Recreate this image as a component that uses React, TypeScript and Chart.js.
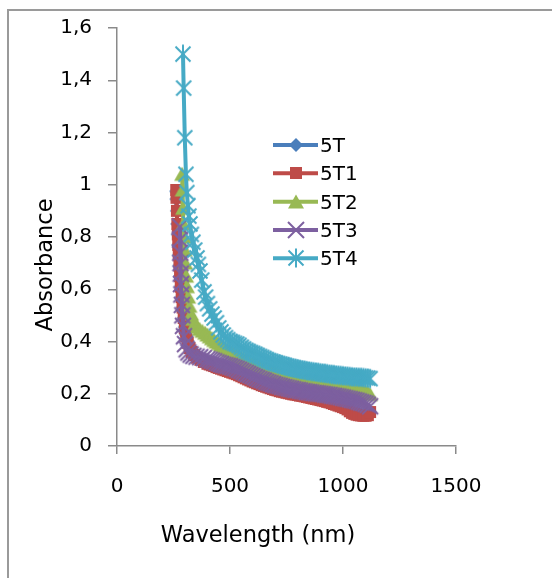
import React, { useEffect, useRef } from "react";
import { Chart, registerables } from "chart.js";

Chart.register(...registerables);

// ---------- data ----------
const seriesNames = ["5T", "5T1", "5T2", "5T3", "5T4"];
const seriesColors = ["#4A7EBB", "#BE4B48", "#98B954", "#7D60A0", "#46AAC5"];
const seriesMarkers = ["diamond", "square", "triangle", "x", "star"];

const xTickValues = [0, 500, 1000, 1500];
const yTickValues = [0, 0.2, 0.4, 0.6, 0.8, 1, 1.2, 1.4, 1.6];

// common wavelength grid for the flat part of the spectra (nm)
const gridWl = [
  400, 410, 420, 430, 440, 450, 460, 470, 480, 490,
  500, 510, 520, 530, 540, 550, 560, 570, 580, 590,
  600, 610, 620, 630, 640, 650, 660, 670, 680, 690,
  700, 710, 720, 730, 740, 750, 760, 770, 780, 790,
  800, 810, 820, 830, 840, 850, 860, 870, 880, 890,
  900, 910, 920, 930, 940, 950, 960, 970, 980, 990,
  1000, 1010, 1020, 1030, 1040, 1050, 1060, 1070, 1080, 1090,
  1100, 1110, 1120,
];

// 5T (lies under 5T1 in the picture)
const wl5T = [262, 263, 265, 267, 269, 271, 273, 276, 279, 282, 286, 290, 295, 300, 306, 313, 321, 330, 341, 354, 369, 384];
const abs5T = [
  0.975, 0.945, 0.9, 0.85, 0.81, 0.77, 0.73, 0.69, 0.65, 0.61, 0.57, 0.53, 0.49, 0.455, 0.425, 0.4, 0.38, 0.365,
  0.353, 0.343, 0.335, 0.327,
  0.32, 0.317, 0.314, 0.311, 0.307, 0.304, 0.301, 0.298, 0.295, 0.292,
  0.289, 0.286, 0.283, 0.28, 0.276, 0.272, 0.268, 0.264, 0.26, 0.256,
  0.252, 0.249, 0.245, 0.242, 0.238, 0.235, 0.232, 0.229, 0.226, 0.223,
  0.22, 0.218, 0.215, 0.213, 0.211, 0.209, 0.207, 0.205, 0.203, 0.202,
  0.2, 0.198, 0.197, 0.195, 0.193, 0.191, 0.189, 0.187, 0.185, 0.183,
  0.181, 0.179, 0.177, 0.174, 0.172, 0.169, 0.166, 0.163, 0.16, 0.157,
  0.154, 0.15, 0.145, 0.138, 0.132, 0.128, 0.125, 0.123, 0.122, 0.121,
  0.121, 0.123, 0.128,
];

// 5T1
const wl5T1 = [262, 263, 265, 267, 269, 271, 273, 276, 279, 282, 286, 290, 295, 300, 306, 313, 321, 330, 341, 354, 369, 384];
const abs5T1 = [
  0.98, 0.95, 0.9, 0.85, 0.81, 0.77, 0.73, 0.69, 0.65, 0.61, 0.57, 0.53, 0.49, 0.45, 0.42, 0.395, 0.375, 0.36,
  0.348, 0.338, 0.33, 0.322,
  0.315, 0.312, 0.309, 0.306, 0.302, 0.299, 0.296, 0.293, 0.29, 0.287,
  0.284, 0.281, 0.278, 0.275, 0.271, 0.267, 0.263, 0.259, 0.255, 0.251,
  0.247, 0.244, 0.24, 0.237, 0.233, 0.23, 0.227, 0.224, 0.221, 0.218,
  0.215, 0.213, 0.21, 0.208, 0.206, 0.204, 0.202, 0.2, 0.198, 0.197,
  0.195, 0.193, 0.192, 0.19, 0.188, 0.186, 0.184, 0.182, 0.18, 0.178,
  0.176, 0.174, 0.172, 0.169, 0.167, 0.164, 0.161, 0.158, 0.155, 0.152,
  0.149, 0.145, 0.14, 0.133, 0.127, 0.123, 0.12, 0.118, 0.117, 0.116,
  0.116, 0.118, 0.13,
];

// 5T2
const wl5T2 = [288, 290, 292, 294, 296, 299, 302, 306, 310, 315, 321, 328, 336, 345, 355, 366, 378, 390];
const abs5T2 = [
  1.04, 0.98, 0.91, 0.85, 0.8, 0.75, 0.7, 0.65, 0.61, 0.57, 0.535, 0.505, 0.485, 0.468, 0.455, 0.446, 0.439, 0.432,
  0.425, 0.418, 0.411, 0.404, 0.398, 0.392, 0.386, 0.38, 0.374, 0.368,
  0.363, 0.358, 0.353, 0.349, 0.344, 0.339, 0.334, 0.329, 0.325, 0.321,
  0.318, 0.314, 0.31, 0.306, 0.302, 0.299, 0.296, 0.293, 0.29, 0.287,
  0.284, 0.281, 0.278, 0.275, 0.273, 0.27, 0.268, 0.265, 0.263, 0.261,
  0.259, 0.257, 0.255, 0.253, 0.251, 0.25, 0.248, 0.247, 0.245, 0.244,
  0.242, 0.241, 0.24, 0.238, 0.237, 0.236, 0.235, 0.233, 0.232, 0.231,
  0.229, 0.228, 0.226, 0.225, 0.223, 0.221, 0.219, 0.217, 0.215, 0.212,
  0.209, 0.204, 0.197,
];

// 5T3
const wl5T3 = [278, 279, 280, 281, 282, 283, 285, 287, 289, 292, 296, 301, 308, 316, 326, 338, 352, 368, 384];
const abs5T3 = [
  0.84, 0.79, 0.74, 0.7, 0.66, 0.62, 0.58, 0.54, 0.5, 0.46, 0.42, 0.39, 0.37, 0.358, 0.35, 0.345, 0.342, 0.34, 0.337,
  0.333, 0.33, 0.327, 0.324, 0.32, 0.317, 0.314, 0.311, 0.309, 0.307,
  0.305, 0.302, 0.299, 0.296, 0.292, 0.288, 0.284, 0.28, 0.276, 0.272,
  0.268, 0.264, 0.26, 0.256, 0.253, 0.25, 0.246, 0.243, 0.24, 0.237,
  0.234, 0.232, 0.23, 0.227, 0.225, 0.223, 0.221, 0.219, 0.217, 0.215,
  0.214, 0.212, 0.21, 0.209, 0.207, 0.206, 0.205, 0.203, 0.202, 0.201,
  0.2, 0.199, 0.197, 0.196, 0.195, 0.193, 0.192, 0.19, 0.189, 0.187,
  0.185, 0.183, 0.181, 0.179, 0.177, 0.175, 0.173, 0.17, 0.167, 0.165,
  0.162, 0.158, 0.152,
];

// 5T4
const wl5T4 = [292, 295, 300, 305, 309, 314, 318, 323, 329, 336, 344, 354, 360, 367, 375, 385, 392];
const abs5T4 = [
  1.5, 1.37, 1.18, 1.04, 0.97, 0.92, 0.88, 0.85, 0.81, 0.78, 0.75, 0.72, 0.695, 0.67, 0.635, 0.59, 0.57,
  0.545, 0.525, 0.505, 0.49, 0.472, 0.452, 0.437, 0.425, 0.415, 0.407,
  0.4, 0.397, 0.393, 0.39, 0.385, 0.378, 0.372, 0.366, 0.362, 0.358,
  0.355, 0.351, 0.347, 0.343, 0.339, 0.335, 0.331, 0.327, 0.324, 0.321,
  0.318, 0.315, 0.313, 0.311, 0.308, 0.305, 0.303, 0.301, 0.299, 0.297,
  0.295, 0.293, 0.291, 0.29, 0.288, 0.287, 0.285, 0.284, 0.283, 0.282,
  0.28, 0.279, 0.278, 0.277, 0.275, 0.274, 0.273, 0.272, 0.271, 0.27,
  0.269, 0.268, 0.267, 0.266, 0.265, 0.264, 0.264, 0.263, 0.263, 0.262,
  0.261, 0.26, 0.258,
];

const seriesWl = [
  [...wl5T, ...gridWl],
  [...wl5T1, ...gridWl],
  [...wl5T2, ...gridWl],
  [...wl5T3, ...gridWl],
  [...wl5T4, ...gridWl],
];
const seriesAbs = [abs5T, abs5T1, abs5T2, abs5T3, abs5T4];

const FONT = "DejaVu Sans";

function makeMarker(kind: string, color: string): HTMLCanvasElement {
  const s = 22;
  const c = document.createElement("canvas");
  c.width = s;
  c.height = s;
  const g = c.getContext("2d") as CanvasRenderingContext2D;
  const m = s / 2;
  g.fillStyle = color;
  g.strokeStyle = color;
  g.lineWidth = 2;
  g.beginPath();
  if (kind === "diamond") {
    g.moveTo(m, m - 7);
    g.lineTo(m + 7, m);
    g.lineTo(m, m + 7);
    g.lineTo(m - 7, m);
    g.closePath();
    g.fill();
  } else if (kind === "square") {
    g.fillRect(m - 6, m - 6, 12, 12);
  } else if (kind === "triangle") {
    g.moveTo(m, m - 7.5);
    g.lineTo(m + 8, m + 6.5);
    g.lineTo(m - 8, m + 6.5);
    g.closePath();
    g.fill();
  } else if (kind === "x") {
    g.moveTo(m - 8, m - 8);
    g.lineTo(m + 8, m + 8);
    g.moveTo(m + 8, m - 8);
    g.lineTo(m - 8, m + 8);
    g.stroke();
  } else {
    g.moveTo(m - 7.5, m - 7.5);
    g.lineTo(m + 7.5, m + 7.5);
    g.moveTo(m + 7.5, m - 7.5);
    g.lineTo(m - 7.5, m + 7.5);
    g.moveTo(m, m - 9.5);
    g.lineTo(m, m + 9.5);
    g.stroke();
  }
  return c;
}

const fmtComma = (v: number) => (Math.round(v * 10) / 10).toString().replace(".", ",");

export default function App() {
  const ref = useRef<HTMLCanvasElement | null>(null);

  useEffect(() => {
    if (!ref.current) return;
    const markers = seriesMarkers.map((k, i) => makeMarker(k, seriesColors[i]));

    const decor = {
      id: "decor",
      beforeDraw(chart: any) {
        const ctx = chart.ctx as CanvasRenderingContext2D;
        ctx.save();
        ctx.fillStyle = "#ffffff";
        ctx.fillRect(0, 0, chart.width, chart.height);
        ctx.fillStyle = "#9a9a9a";
        ctx.fillRect(7, 9, chart.width - 7, 2);
        ctx.fillRect(7, 9, 2, chart.height - 9);
        ctx.restore();
      },
      afterDraw(chart: any) {
        const ctx = chart.ctx as CanvasRenderingContext2D;
        ctx.save();
        ctx.fillStyle = "#000000";
        ctx.font = `22.5px "${FONT}"`;
        ctx.textAlign = "center";
        ctx.textBaseline = "alphabetic";
        ctx.fillText("Wavelength (nm)", 258, 542);
        ctx.save();
        ctx.translate(52, 265);
        ctx.rotate(-Math.PI / 2);
        ctx.fillText("Absorbance", 0, 0);
        ctx.restore();

        // legend
        const rowY = [145, 173.3, 201.7, 230, 258.3];
        ctx.font = `20px "${FONT}"`;
        ctx.textAlign = "left";
        seriesNames.forEach((name, i) => {
          const y = rowY[i];
          ctx.strokeStyle = seriesColors[i];
          ctx.lineWidth = 4;
          ctx.beginPath();
          ctx.moveTo(273, y);
          ctx.lineTo(318, y);
          ctx.stroke();
          const mk = markers[i];
          ctx.drawImage(mk, 296 - mk.width / 2, Math.round(y) - mk.height / 2);
          ctx.fillStyle = "#000000";
          ctx.fillText(name, 320, y + 7);
        });
        ctx.restore();
      },
    };

    const chart = new Chart(ref.current, {
      type: "line",
      data: {
        datasets: seriesNames.map((name, i) => ({
          label: name,
          data: seriesWl[i].map((x, j) => ({ x, y: seriesAbs[i][j] })),
          borderColor: seriesColors[i],
          backgroundColor: seriesColors[i],
          borderWidth: 4,
          tension: 0,
          fill: false,
          pointStyle: markers[i] as any,
          pointRadius: 5,
          pointHoverRadius: 5,
          order: 4 - i,
        })),
      },
      options: {
        animation: false,
        responsive: false,
        maintainAspectRatio: false,
        events: [],
        layout: { padding: { top: 27, right: 96, left: 0, bottom: 0 } },
        plugins: {
          legend: { display: false },
          tooltip: { enabled: false },
          title: { display: false },
        },
        scales: {
          x: {
            type: "linear",
            min: 0,
            max: 1500,
            afterBuildTicks: (scale: any) => {
              scale.ticks = xTickValues.map((v) => ({ value: v }));
            },
            afterFit: (scale: any) => {
              scale.height = 132;
            },
            ticks: {
              color: "#000000",
              font: { family: FONT, size: 20 },
              padding: 21,
              maxRotation: 0,
              callback: (v: any) => String(v),
            },
            grid: {
              display: true,
              drawOnChartArea: false,
              drawTicks: true,
              tickLength: 8,
              color: "#8a8a8a",
              lineWidth: 1.5,
            },
            border: { display: true, color: "#8a8a8a", width: 1.5 },
          },
          y: {
            type: "linear",
            min: 0,
            max: 1.6,
            afterBuildTicks: (scale: any) => {
              scale.ticks = yTickValues.map((v) => ({ value: v }));
            },
            afterFit: (scale: any) => {
              scale.width = 117;
            },
            ticks: {
              color: "#000000",
              font: { family: FONT, size: 20 },
              padding: 16,
              callback: (v: any) => fmtComma(Number(v)),
            },
            grid: {
              display: true,
              drawOnChartArea: false,
              drawTicks: true,
              tickLength: 9,
              color: "#8a8a8a",
              lineWidth: 1.5,
            },
            border: { display: true, color: "#8a8a8a", width: 1.5 },
          },
        },
      },
      plugins: [decor as any],
    });
    return () => chart.destroy();
  }, []);

  return (
    <div style={{ position: "absolute", left: 0, top: 0, width: 552, height: 578 }}>
      <canvas ref={ref} width={552} height={578} style={{ display: "block", width: 552, height: 578 }} />
    </div>
  );
}
